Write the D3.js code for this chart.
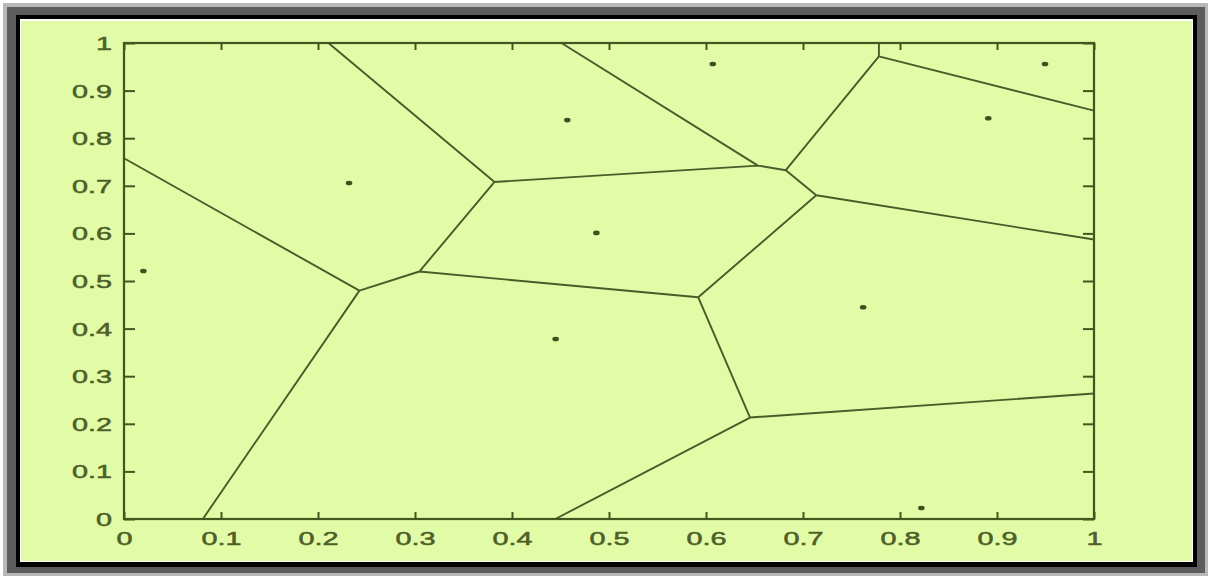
<!DOCTYPE html>
<html>
<head>
<meta charset="utf-8">
<script src="https://cdn.jsdelivr.net/npm/d3@7"></script>
<style>
  html, body { margin: 0; padding: 0; background: #ffffff; }
  svg { display: block; }
</style>
</head>
<body>
<svg id="chart" width="1210" height="576"></svg>
<script>
// Generating sites of the Voronoi diagram
const siteX = [0.020, 0.232, 0.457, 0.607, 0.9495, 0.891, 0.487, 0.445, 0.762, 0.822];
const siteY = [0.521, 0.706, 0.838, 0.956, 0.956, 0.842, 0.601, 0.378, 0.445, 0.023];

// Tick values and their labels
const xTicks = [0, 0.1, 0.2, 0.3, 0.4, 0.5, 0.6, 0.7, 0.8, 0.9, 1];
const yTicks = [0, 0.1, 0.2, 0.3, 0.4, 0.5, 0.6, 0.7, 0.8, 0.9, 1];
const xTickLabels = ["0", "0.1", "0.2", "0.3", "0.4", "0.5", "0.6", "0.7", "0.8", "0.9", "1"];
const yTickLabels = ["0", "0.1", "0.2", "0.3", "0.4", "0.5", "0.6", "0.7", "0.8", "0.9", "1"];

const plot = { left: 124, right: 1094, top: 43, bottom: 519 };
const inkAxis = "#45551f";
const inkText = "#4e5f28";
const inkEdge = "#4a5a28";
const bg = "#e2fba6";
const stretch = 1.6; // horizontal stretch of the whole figure

const svg = d3.select("#chart");

// Framed panel: light shadow, grey band, black rule, white hairline, then the green face
svg.append("rect").attr("x", 3).attr("y", 3).attr("width", 1205).attr("height", 573).attr("fill", "#b8b8b8");
svg.append("rect").attr("x", 7).attr("y", 7).attr("width", 1198).attr("height", 566).attr("fill", "#5d5d5d");
svg.append("rect").attr("x", 16).attr("y", 15).attr("width", 1181).attr("height", 552).attr("fill", "#000000");
svg.append("rect").attr("x", 20).attr("y", 19).attr("width", 1173).attr("height", 543).attr("fill", "#ffffff");
svg.append("rect").attr("x", 21).attr("y", 21).attr("width", 1171).attr("height", 540).attr("fill", bg);

const x = d3.scaleLinear().domain([0, 1]).range([plot.left, plot.right]);
const y = d3.scaleLinear().domain([0, 1]).range([plot.bottom, plot.top]);

// Voronoi edges, computed in data space and mapped through the scales
const sites = siteX.map((v, i) => [v, siteY[i]]);
const voronoi = d3.Delaunay.from(sites).voronoi([0, 0, 1, 1]);
const p = d3.path();
const ctx = {
  moveTo: (a, b) => p.moveTo(x(a), y(b)),
  lineTo: (a, b) => p.lineTo(x(a), y(b)),
  closePath: () => p.closePath()
};
voronoi.render(ctx);
svg.append("path")
  .attr("d", p.toString())
  .attr("fill", "none")
  .attr("stroke", inkEdge)
  .attr("stroke-width", 1.9)
  .attr("stroke-linejoin", "round");

// Sites
svg.append("g").selectAll("ellipse")
  .data(sites)
  .join("ellipse")
  .attr("cx", d => x(d[0]))
  .attr("cy", d => y(d[1]))
  .attr("rx", 3.3)
  .attr("ry", 2.3)
  .attr("fill", "#3f4f1d");

// Axes (box with inward ticks)
function styleAxis(g) {
  g.select(".domain").remove();
  g.selectAll(".tick line").attr("stroke", inkAxis).attr("stroke-width", 2);
}

const xLabel = d => xTickLabels[xTicks.indexOf(d)];
const yLabel = d => yTickLabels[yTicks.indexOf(d)];

const gBottom = svg.append("g")
  .attr("transform", `translate(0,${plot.bottom})`)
  .call(d3.axisBottom(x).tickValues(xTicks).tickSize(-7).tickFormat(xLabel));
styleAxis(gBottom);
gBottom.selectAll(".tick text")
  .attr("y", null).attr("dy", null)
  .attr("transform", `translate(0,26) scale(${stretch},1)`)
  .attr("text-anchor", "middle");

const gTop = svg.append("g")
  .attr("transform", `translate(0,${plot.top})`)
  .call(d3.axisTop(x).tickValues(xTicks).tickSize(-7).tickFormat(""));
styleAxis(gTop);

const gLeft = svg.append("g")
  .attr("transform", `translate(${plot.left},0)`)
  .call(d3.axisLeft(y).tickValues(yTicks).tickSize(-11).tickFormat(yLabel));
styleAxis(gLeft);
gLeft.selectAll(".tick text")
  .attr("x", null).attr("dy", null)
  .attr("transform", `translate(-12,6.5) scale(${stretch},1)`)
  .attr("text-anchor", "end");

const gRight = svg.append("g")
  .attr("transform", `translate(${plot.right},0)`)
  .call(d3.axisRight(y).tickValues(yTicks).tickSize(-11).tickFormat(""));
styleAxis(gRight);

svg.selectAll(".tick text")
  .attr("fill", inkText)
  .attr("stroke", inkText)
  .attr("stroke-width", 0.5)
  .attr("font-family", "'Liberation Sans', Arial, sans-serif")
  .attr("font-size", 18);

// Axis box
svg.append("rect")
  .attr("x", plot.left).attr("y", plot.top)
  .attr("width", plot.right - plot.left).attr("height", plot.bottom - plot.top)
  .attr("fill", "none")
  .attr("stroke", inkAxis)
  .attr("stroke-width", 2.2);
</script>
</body>
</html>
